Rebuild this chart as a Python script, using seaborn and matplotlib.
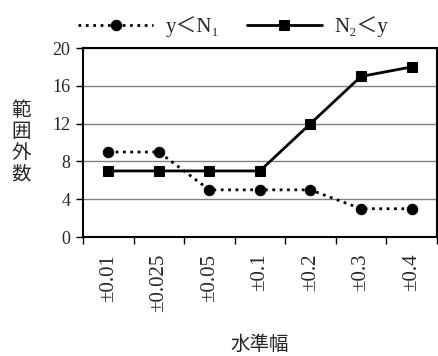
import matplotlib
matplotlib.use("Agg")
import matplotlib.pyplot as plt
import seaborn as sns
import pandas as pd
from matplotlib.ticker import FixedLocator

categories = ["±0.01", "±0.025", "±0.05", "±0.1", "±0.2", "±0.3", "±0.4"]
below_n1 = [9, 9, 5, 5, 5, 3, 3]
above_n2 = [7, 7, 7, 7, 12, 17, 18]
series_names = ["y＜N\u2081", "N\u2082＜y"]
y_ticks = [0, 4, 8, 12, 16, 20]

sns.set_theme(style="white")
plt.rcParams['font.family'] = ['Liberation Serif', 'Noto Sans CJK JP', 'DejaVu Sans']

df = pd.DataFrame({
    "idx": list(range(len(categories))) * 2,
    "value": below_n1 + above_n2,
    "series": [series_names[0]] * len(categories) + [series_names[1]] * len(categories),
})

fig = plt.figure(figsize=(4.39, 3.56), dpi=100)
ax = fig.add_axes([0.189, 0.334, 0.806, 0.531])

sns.lineplot(data=df[df.series == series_names[0]], x="idx", y="value", ax=ax,
             color="black", linestyle=":", linewidth=2.0, marker="o", markersize=7.5,
             markeredgecolor="black", label=series_names[0])
sns.lineplot(data=df[df.series == series_names[1]], x="idx", y="value", ax=ax,
             color="black", linestyle="-", linewidth=2.0, marker="s", markersize=7.5,
             markeredgecolor="black", label=series_names[1])

ax.set_xlim(-0.5, len(categories) - 0.5)
ax.set_ylim(0, 20)
ax.set_yticks(y_ticks)
ax.set_yticklabels([str(t) for t in y_ticks], fontsize=13)
ax.set_xticks(range(len(categories)))
ax.set_xticklabels(categories, rotation=90, fontsize=15)
ax.tick_params(axis="x", which="major", length=0, pad=12)
ax.xaxis.set_minor_locator(FixedLocator([i - 0.5 for i in range(len(categories) + 1)]))
ax.tick_params(axis="x", which="minor", length=5, width=1, color="black", direction="out", bottom=True)
ax.tick_params(axis="y", which="major", length=5, width=1, color="black", direction="out", left=True, pad=4)
ax.yaxis.grid(True, color="#808080", linewidth=1)
ax.set_axisbelow(True)
for s in ax.spines.values():
    s.set_color("black")
    s.set_linewidth(1.5)

ax.set_xlabel("水準幅", fontsize=14, family=['Noto Sans CJK JP'])
ax.xaxis.set_label_coords(0.5, -0.515)
ax.set_ylabel("")
fig.text(0.048, 0.6, "範\n囲\n外\n数", fontsize=14, family=['Noto Sans CJK JP'],
         ha="center", va="center", linespacing=1.0)

ax.legend(loc="center left", bbox_to_anchor=(0.178, 0.925), bbox_transform=fig.transFigure,
          ncol=2, frameon=False, fontsize=15, handlelength=3.6, columnspacing=1.3,
          handletextpad=0.6, borderaxespad=0, borderpad=0)

fig.savefig("out.png", dpi=100)
